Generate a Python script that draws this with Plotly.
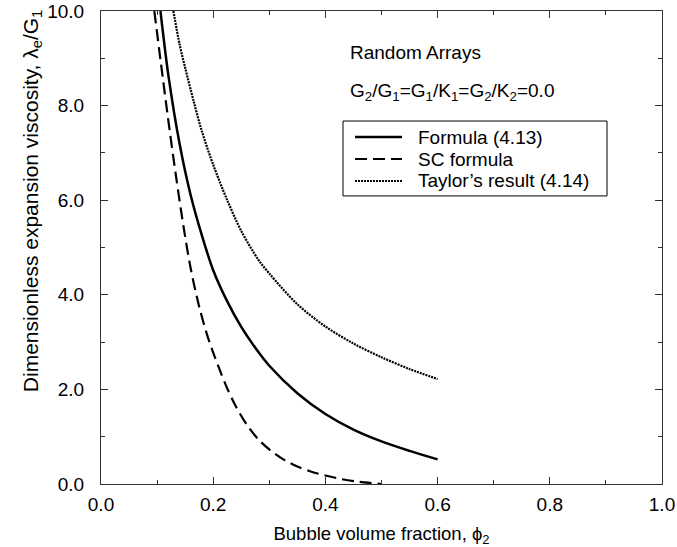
import plotly.graph_objects as go

# Formula (4.13) - solid
phi_formula = [0.106, 0.12, 0.14, 0.16, 0.18, 0.2, 0.225, 0.25, 0.275, 0.3,
               0.35, 0.4, 0.45, 0.5, 0.55, 0.6]
lam_formula = [10.0, 8.65, 7.2, 6.1, 5.25, 4.52, 3.86, 3.32, 2.88, 2.5,
               1.92, 1.48, 1.15, 0.9, 0.7, 0.52]

# SC formula - dashed
phi_sc = [0.095, 0.11, 0.123, 0.135, 0.147, 0.16, 0.175, 0.19, 0.2, 0.212, 0.225,
          0.24, 0.26, 0.28, 0.3, 0.325, 0.35, 0.375, 0.4, 0.43, 0.46, 0.5]
lam_sc = [10.0, 8.6, 7.42, 6.4, 5.45, 4.55, 3.75, 3.12, 2.78, 2.4, 2.02,
          1.65, 1.25, 0.95, 0.73, 0.52, 0.37, 0.26, 0.18, 0.1, 0.045, 0.0]

# Taylor's result (4.14) - dotted
phi_taylor = [0.129, 0.14, 0.15, 0.165, 0.18, 0.2, 0.225, 0.25, 0.28, 0.3, 0.35, 0.4,
              0.45, 0.5, 0.55, 0.6]
lam_taylor = [10.0, 9.3, 8.8, 8.1, 7.45, 6.75, 6.0, 5.35, 4.75, 4.45, 3.8, 3.33,
              2.97, 2.68, 2.43, 2.22]

series_names = ["Formula (4.13)", "SC formula", "Taylor\u2019s result (4.14)"]
x_ticks = [0.0, 0.2, 0.4, 0.6, 0.8, 1.0]
y_ticks = [0.0, 2.0, 4.0, 6.0, 8.0, 10.0]

FONT = "Liberation Sans, Arial, Helvetica, sans-serif"
styles = [dict(color="black", width=2.5),
          dict(color="black", width=2.2, dash="12px,6px"),
          dict(color="black", width=2.2, dash="2px,1px")]

fig = go.Figure()
for xs, ys, name, st in zip([phi_formula, phi_sc, phi_taylor],
                            [lam_formula, lam_sc, lam_taylor], series_names, styles):
    fig.add_trace(go.Scatter(x=xs, y=ys, mode="lines", name=name, showlegend=False,
                             line=dict(shape="spline", smoothing=0.9, **st)))

axis_common = dict(
    showline=True, linecolor="#333", linewidth=1, mirror="ticks",
    ticks="inside", ticklen=7, tickwidth=1, tickcolor="#333",
    showgrid=False, zeroline=False, tickformat=".1f", automargin=False,
    tickfont=dict(family=FONT, size=19, color="black"),
)

fig.update_xaxes(range=[0, 1], tickvals=x_ticks,
                 minor=dict(dtick=0.1, ticks="inside", ticklen=4, tickcolor="#333", showgrid=False),
                 title=dict(text="Bubble volume fraction, \u03d5<sub>2</sub>",
                            font=dict(family=FONT, size=18.5, color="black"), standoff=24),
                 ticklabelstandoff=3,
                 **axis_common)
fig.update_yaxes(range=[0, 10], tickvals=y_ticks,
                 minor=dict(dtick=1, ticks="inside", ticklen=4, tickcolor="#333", showgrid=False),
                 ticklabelstandoff=12,
                 **axis_common)

# y-axis title (placed as in the reference, slightly above the axis centre)
fig.add_annotation(xref="paper", yref="paper", x=-0.123, y=0.598, xanchor="center", yanchor="middle",
                   textangle=-90, showarrow=False,
                   text="Dimensionless expansion viscosity, \u03bb<sub>e</sub>/G<sub>1</sub>",
                   font=dict(family=FONT, size=21, color="black"))

fig.add_annotation(xref="paper", yref="paper", x=0.44, y=0.913, xanchor="left", yanchor="middle",
                   text="Random Arrays", showarrow=False,
                   font=dict(family=FONT, size=19, color="black"))
fig.add_annotation(xref="paper", yref="paper", x=0.44, y=0.829, xanchor="left", yanchor="middle",
                   text="G<sub>2</sub>/G<sub>1</sub>=G<sub>1</sub>/K<sub>1</sub>=G<sub>2</sub>/K<sub>2</sub>=0.0",
                   showarrow=False, font=dict(family=FONT, size=19, color="black"))

# Legend box drawn by hand to match the reference layout
leg_x0, leg_x1, leg_y0, leg_y1 = 0.4314, 0.902, 0.609, 0.7674
row_y = [0.7336, 0.6871, 0.6406]
fig.add_shape(type="rect", xref="paper", yref="paper", x0=leg_x0, x1=leg_x1, y0=leg_y0, y1=leg_y1,
              line=dict(color="black", width=1), fillcolor="white", layer="above")
for name, st, ry in zip(series_names, styles, row_y):
    fig.add_shape(type="line", xref="paper", yref="paper", x0=0.4528, x1=0.5365, y0=ry, y1=ry,
                  line=st, layer="above")
    fig.add_annotation(xref="paper", yref="paper", x=0.5615, y=ry, xanchor="left", yanchor="middle",
                       text=name, showarrow=False, font=dict(family=FONT, size=19, color="black"))

fig.update_layout(
    width=677, height=547,
    margin=dict(l=101, r=15, t=11, b=63),
    paper_bgcolor="white", plot_bgcolor="white",
    showlegend=False,
)

fig.write_html("out.html")
